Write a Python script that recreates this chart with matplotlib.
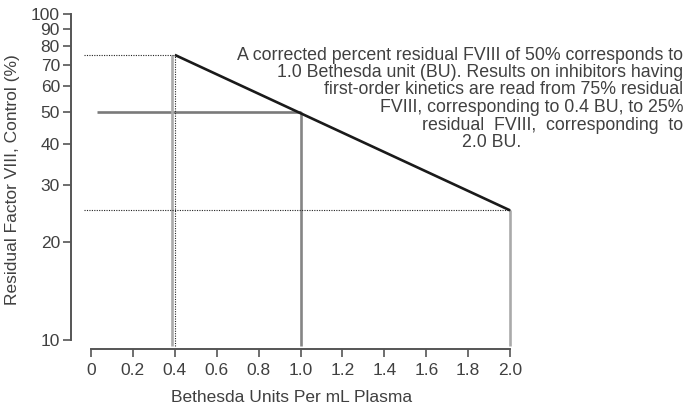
import matplotlib
matplotlib.use("Agg")
import matplotlib.pyplot as plt

plt.rcParams["font.family"] = ["Liberation Sans", "DejaVu Sans"]

# Data
fit_x = [0.4, 2.0]
fit_y = [75, 25]

# gray reference lines (solid)
v_lines_x = [0.385, 1.0, 2.0]
v_lines_top = [75, 50, 25]
v_lines_color = ["#aaaaaa", "#858585", "#aaaaaa"]
h50_x = [0.03, 1.0]
h50_y = 50

# dotted guides
dot_h_y = [75, 25]
dot_h_x_end = [0.4, 2.0]
dot_start = -0.035
dot_v_x = 0.4
y_floor = 9.6

y_ticks = [10, 20, 30, 40, 50, 60, 70, 80, 90, 100]
x_ticks = [0, 0.2, 0.4, 0.6, 0.8, 1.0, 1.2, 1.4, 1.6, 1.8, 2.0]
x_ticklabels = ["0", "0.2", "0.4", "0.6", "0.8", "1.0", "1.2", "1.4", "1.6", "1.8", "2.0"]

note_lines = [
    "A corrected percent residual FVIII of 50% corresponds to",
    "1.0 Bethesda unit (BU). Results on inhibitors having",
    "first-order kinetics are read from 75% residual",
    "FVIII, corresponding to 0.4 BU, to 25%",
    "residual  FVIII,  corresponding  to",
]
note_last = "2.0 BU."

W, H = 693, 405
fig = plt.figure(figsize=(W / 100, H / 100), dpi=100)
ax = fig.add_axes([71 / W, 56 / H, 442 / W, 339 / H])
ax.set_yscale("log")
ax.set_xlim(-0.0955, 2.014)
ax.set_ylim(9.388, 103)

txt = "#404040"
spine_c = "#555555"
fs = 12.5

# solid gray lines
ax.plot(h50_x, [h50_y, h50_y], color="#7a7a7a", lw=1.9, solid_capstyle="butt")
for x, top, c in zip(v_lines_x, v_lines_top, v_lines_color):
    ax.plot([x, x], [y_floor, top], color=c, lw=1.9, solid_capstyle="butt")

# dotted lines
for y, xe in zip(dot_h_y, dot_h_x_end):
    ax.plot([dot_start, xe], [y, y], color="#222222", lw=0.8, ls=(0, (1, 1.2)))
ax.plot([dot_v_x, dot_v_x], [y_floor, dot_h_y[0]], color="#222222", lw=0.8, ls=(0, (1, 1.2)))

# fitted line
ax.plot(fit_x, fit_y, color="#1a1a1a", lw=1.9, solid_capstyle="butt")

for s in ["top", "right"]:
    ax.spines[s].set_visible(False)
ax.spines["left"].set_bounds(10, 100)
ax.spines["bottom"].set_bounds(0, 2.0)
for s in ["left", "bottom"]:
    ax.spines[s].set_color(spine_c)
    ax.spines[s].set_linewidth(1.4)

ax.set_yticks(y_ticks)
ax.set_yticklabels([str(v) for v in y_ticks])
ax.yaxis.set_minor_locator(matplotlib.ticker.NullLocator())
ax.set_xticks(x_ticks)
ax.set_xticklabels(x_ticklabels)
ax.tick_params(axis="both", direction="out", length=6, width=1.2, color=spine_c,
               labelcolor=txt, labelsize=fs)
ax.tick_params(axis="y", pad=2)
ax.tick_params(axis="x", pad=4)

ax.set_xlabel("Bethesda Units Per mL Plasma", color=txt, fontsize=fs, labelpad=9)
ax.set_ylabel("Residual Factor VIII, Control (%)", color=txt, fontsize=fs, labelpad=8)

# annotation
y0 = 55
for i, line in enumerate(note_lines):
    fig.text(683 / W, 1 - (y0 + i * 17.5) / H, line, ha="right", va="center",
             color=txt, fontsize=12.8)
fig.text(492 / W, 1 - (y0 + 5 * 17.5) / H, note_last, ha="center", va="center",
         color=txt, fontsize=12.8)

fig.savefig("out.png", dpi=100)
